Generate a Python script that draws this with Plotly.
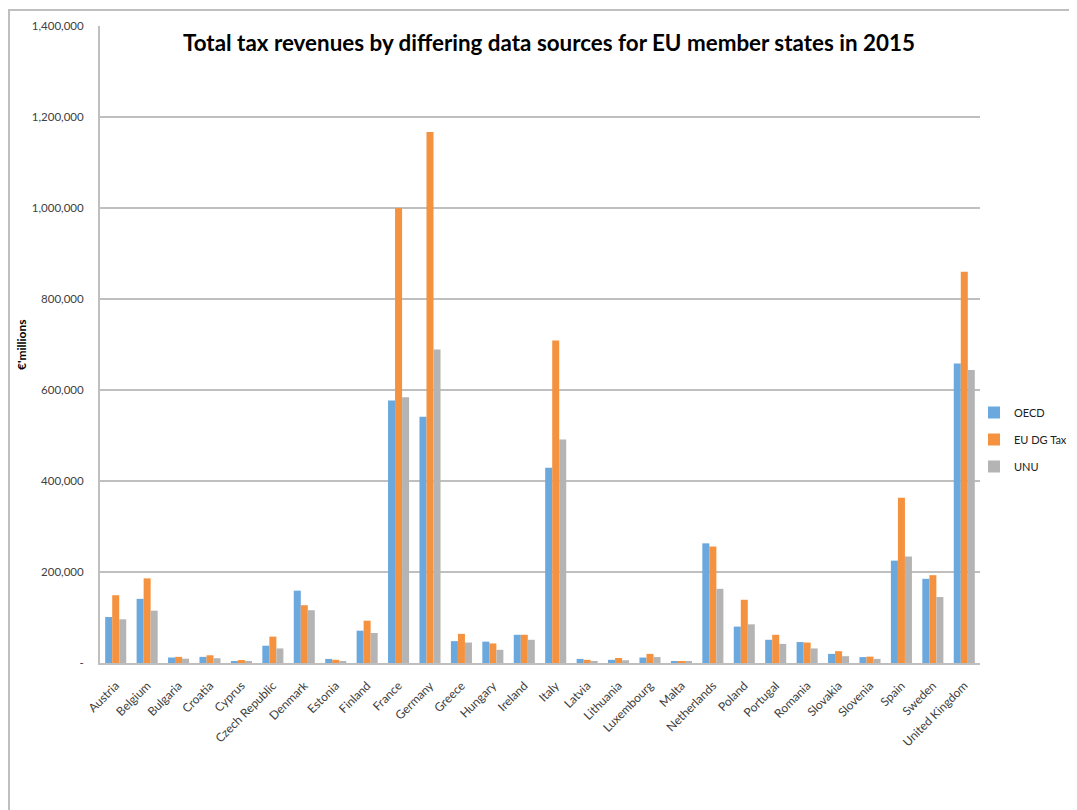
import plotly.graph_objects as go

countries = ["Austria", "Belgium", "Bulgaria", "Croatia", "Cyprus", "Czech Republic", "Denmark",
             "Estonia", "Finland", "France", "Germany", "Greece", "Hungary", "Ireland", "Italy",
             "Latvia", "Lithuania", "Luxembourg", "Malta", "Netherlands", "Poland", "Portugal",
             "Romania", "Slovakia", "Slovenia", "Spain", "Sweden", "United Kingdom"]

oecd = [101000, 141000, 12000, 13500, 4000, 38000, 159000, 9000, 71000, 577000, 541000, 48000,
        47000, 62000, 429000, 9000, 7000, 12000, 3500, 263000, 80000, 51000, 46000, 20000, 13000,
        225000, 185000, 658000]
eu_dg_tax = [149000, 186000, 13500, 17000, 6500, 58000, 127000, 7000, 93000, 1000000, 1167000, 64000,
             43000, 62000, 709000, 7000, 11000, 20000, 3500, 256000, 139000, 62000, 45000, 26000, 14000,
             363000, 193000, 860000]
unu = [96000, 115000, 9500, 10500, 4000, 32000, 116000, 4000, 66000, 584000, 689000, 45000,
       29000, 51000, 491000, 4500, 6000, 13000, 3500, 163000, 85000, 42000, 32000, 15000, 9000,
       234000, 145000, 644000]

series_names = ["OECD", "EU DG Tax", "UNU"]
y_tickvals = [0, 200000, 400000, 600000, 800000, 1000000, 1200000, 1400000]
y_ticktext = ["-", "200,000", "400,000", "600,000", "800,000", "1,000,000", "1,200,000", "1,400,000"]

title_text = "Total tax revenues by differing data sources for EU member states in 2015"
y_title = "€'millions"

colors = ["#6AA8DD", "#F59240", "#B4B4B4"]
FONT = "Lato"

OFF = 8  # page body margin
W, H = 1077 - OFF, 810 - OFF
L, R, T, B = 100 - OFF, 980 - OFF, 26 - OFF, 663 - OFF

fig = go.Figure()
for name, vals, col in zip(series_names, [oecd, eu_dg_tax, unu], colors):
    fig.add_trace(go.Bar(x=countries, y=vals, name=name, marker=dict(color=col, line=dict(width=0)),
                         legendgroup=name))

def px_x(p):
    return (p - OFF - L) / (R - L)

def px_y(p):
    return (B - (p - OFF)) / (B - T)

fig.update_layout(
    width=W, height=H,
    margin=dict(l=L, r=W - R, t=T, b=H - B, autoexpand=False),
    paper_bgcolor="white", plot_bgcolor="white",
    barmode="group", bargap=0.33, bargroupgap=0,
    font=dict(family=FONT, size=12, color="#404040"),
    showlegend=True,
    legend=dict(x=px_x(974), y=px_y(398), xanchor="left", yanchor="top",
                traceorder="grouped", tracegroupgap=8,
                font=dict(family=FONT, size=11, color="#202020"),
                itemwidth=30, bgcolor="rgba(0,0,0,0)"),
    xaxis=dict(tickangle=-45, showgrid=False, showline=True, linecolor="#BFBFBF", linewidth=2,
               ticks="", tickfont=dict(family=FONT, size=12, color="#404040"),
               ticklabelstandoff=9, automargin=False),
    yaxis=dict(range=[0, 1400000], tickvals=y_tickvals, ticktext=y_ticktext,
               showgrid=True, gridcolor="#BFBFBF", gridwidth=1.5,
               showline=True, linecolor="#BFBFBF", linewidth=2, zeroline=False,
               ticks="", ticklabelstandoff=12,
               tickfont=dict(family=FONT, size=11.5, color="#404040"), automargin=False),
    annotations=[
        dict(text="<b>" + title_text + "</b>", xref="paper", yref="paper",
             x=px_x(549), y=px_y(42), xanchor="center", yanchor="middle", showarrow=False,
             font=dict(family=FONT, size=22.4, color="black")),
        dict(text="<b>" + y_title + "</b>", xref="paper", yref="paper",
             x=px_x(21), y=px_y(345), xanchor="center", yanchor="middle", showarrow=False,
             textangle=-90, font=dict(family=FONT, size=12, color="black")),
    ],
    shapes=[
        dict(type="rect", xref="paper", yref="paper",
             x0=px_x(9), x1=px_x(1100), y0=px_y(10), y1=px_y(840),
             line=dict(color="#BFBFBF", width=2), fillcolor="rgba(0,0,0,0)", layer="below"),
    ],
)

fig.write_html("out.html")
